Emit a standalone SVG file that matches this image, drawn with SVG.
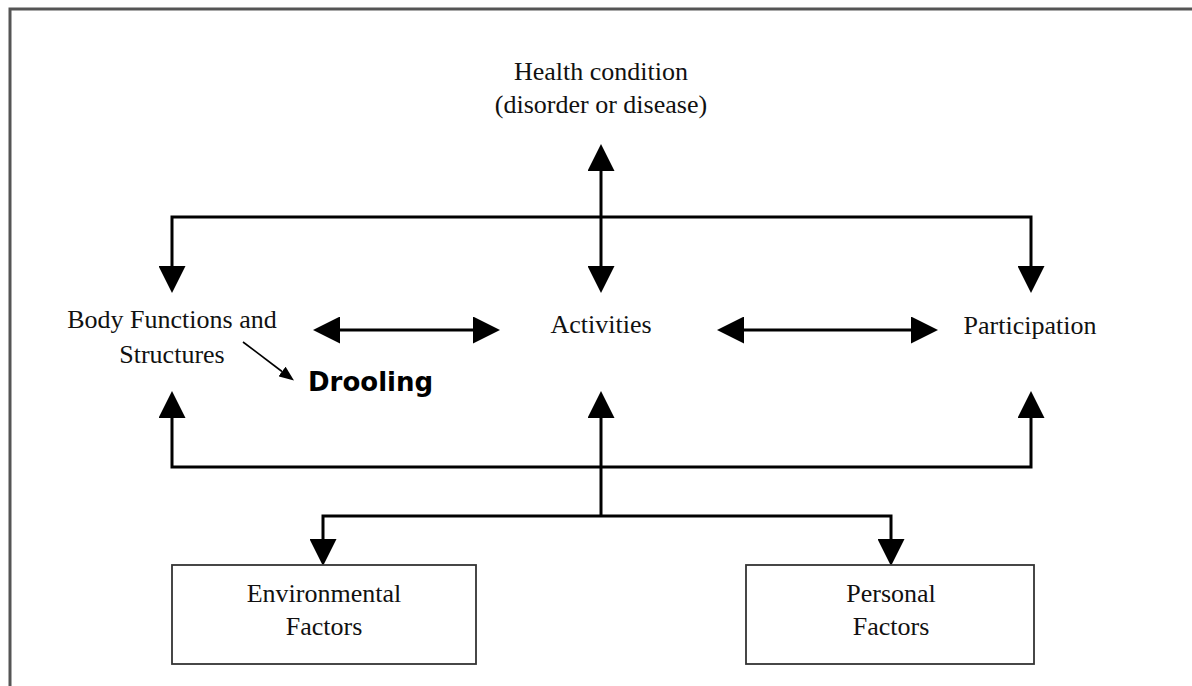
<svg xmlns="http://www.w3.org/2000/svg" width="1192" height="686" viewBox="0 0 1192 686">
  <style>
    .lbl { font-family: "Liberation Serif", "Times New Roman", serif; font-size: 26px; fill: #111; text-anchor: middle; }
    .bold { font-family: "DejaVu Sans", Verdana, sans-serif; font-weight: bold; font-size: 26px; fill: #000; }
    .conn { fill: none; stroke: #000; stroke-width: 3; }
    .thin { fill: none; stroke: #000; stroke-width: 1.6; }
    .box { fill: #fff; stroke: #333; stroke-width: 1.8; }
  </style>
  <defs>
    <marker id="ah" viewBox="0 0 27 27" refX="0" refY="13.5" markerWidth="27" markerHeight="27" markerUnits="userSpaceOnUse" orient="auto-start-reverse">
      <path d="M0,0 L27,13.5 L0,27 Z" fill="#000"/>
    </marker>
    <marker id="ahs" viewBox="0 0 15 12" refX="0" refY="6" markerWidth="15" markerHeight="12" markerUnits="userSpaceOnUse" orient="auto">
      <path d="M0,0 L15,6 L0,12 Z" fill="#000"/>
    </marker>
  </defs>
  <rect x="0" y="0" width="1192" height="686" fill="#fff"/>
  <path d="M10,686 V9 H1192" fill="none" stroke="#555" stroke-width="3"/>

  <g id="connectors">
    <path class="conn" d="M601,171 V266" marker-start="url(#ah)" marker-end="url(#ah)"/>
    <path class="conn" d="M172,266 V217 H1031 V266" marker-start="url(#ah)" marker-end="url(#ah)"/>
    <path class="conn" d="M340,330 H473" marker-start="url(#ah)" marker-end="url(#ah)"/>
    <path class="conn" d="M744,330 H911" marker-start="url(#ah)" marker-end="url(#ah)"/>
    <path class="conn" d="M172,418 V467 H1031 V418" marker-start="url(#ah)" marker-end="url(#ah)"/>
    <path class="conn" d="M601,516 V418" marker-end="url(#ah)"/>
    <path class="conn" d="M323,539 V516 H891 V539" marker-start="url(#ah)" marker-end="url(#ah)"/>
    <path class="thin" d="M243,342 L282,371.5" marker-end="url(#ahs)"/>
  </g>

  <g id="health">
    <text class="lbl" x="601" y="80">Health condition</text>
    <text class="lbl" x="601" y="113">(disorder or disease)</text>
  </g>
  <g id="body">
    <text class="lbl" x="172" y="328">Body Functions and</text>
    <text class="lbl" x="172" y="363">Structures</text>
  </g>
  <g id="activities">
    <text class="lbl" x="601" y="333">Activities</text>
  </g>
  <g id="participation">
    <text class="lbl" x="1030" y="334">Participation</text>
  </g>
  <g id="drooling">
    <text class="bold" x="308" y="391">Drooling</text>
  </g>
  <g id="environmental">
    <rect class="box" x="172" y="565" width="304" height="99"/>
    <text class="lbl" x="324" y="602">Environmental</text>
    <text class="lbl" x="324" y="635">Factors</text>
  </g>
  <g id="personal">
    <rect class="box" x="746" y="565" width="288" height="99"/>
    <text class="lbl" x="891" y="602">Personal</text>
    <text class="lbl" x="891" y="635">Factors</text>
  </g>
</svg>
